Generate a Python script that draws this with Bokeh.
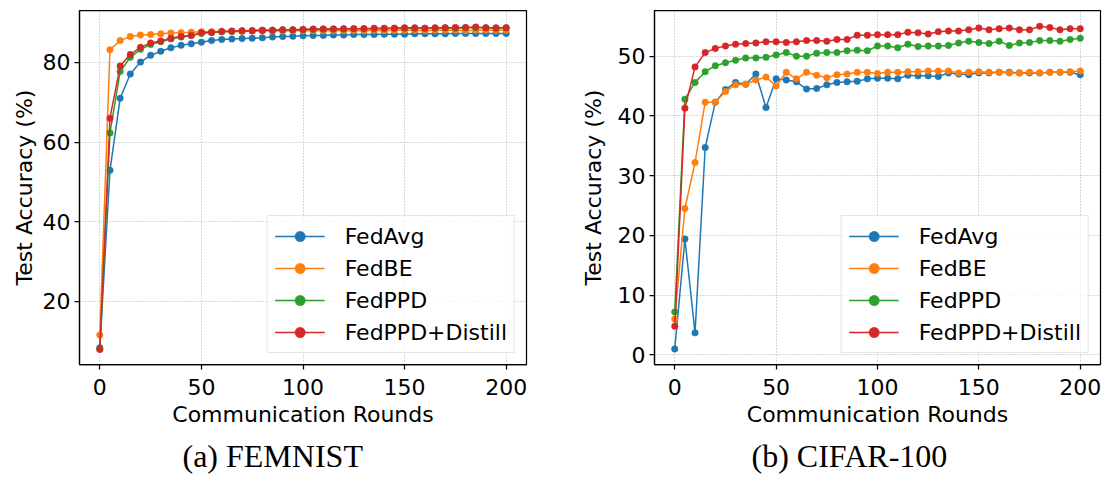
from bokeh.plotting import figure
from bokeh.models import Range1d, FixedTicker, Legend, LegendItem, Title
from bokeh.layouts import row
from bokeh.embed import file_html
from bokeh.resources import INLINE

# ---------------- data ----------------
rounds = [0, 5, 10, 15, 20, 25, 30, 35, 40, 45, 50, 55, 60, 65, 70, 75, 80, 85, 90, 95,
          100, 105, 110, 115, 120, 125, 130, 135, 140, 145, 150, 155, 160, 165, 170, 175,
          180, 185, 190, 195, 200]

series_names = ["FedAvg", "FedBE", "FedPPD", "FedPPD+Distill"]

femnist_fedavg = [8.3, 52.9, 71.0, 77.1, 80.1, 81.8, 82.8, 83.7, 84.3, 84.7, 85.1, 85.5, 85.8, 85.9,
                  86.0, 86.1, 86.2, 86.4, 86.5, 86.6, 86.7, 86.8, 86.8, 86.9, 86.9, 87.0, 87.0, 87.0,
                  87.1, 87.1, 87.1, 87.2, 87.2, 87.2, 87.2, 87.3, 87.3, 87.3, 87.3, 87.3, 87.3]
femnist_fedbe = [11.5, 83.2, 85.5, 86.5, 86.9, 87.0, 87.2, 87.4, 87.5, 87.6, 87.7, 87.7, 87.8, 87.8,
                 87.8, 87.9, 87.9, 87.9, 87.9, 88.0, 88.0, 88.0, 88.0, 88.0, 88.0, 88.0, 88.0, 88.1,
                 88.0, 88.1, 88.1, 88.1, 88.0, 88.1, 88.1, 88.1, 88.0, 88.1, 88.1, 88.1, 88.1]
femnist_fedppd = [8.0, 62.3, 77.7, 81.3, 83.3, 84.5, 85.2, 85.9, 86.4, 86.8, 87.3, 87.5, 87.7, 87.8,
                  87.9, 88.0, 88.1, 88.1, 88.2, 88.2, 88.3, 88.3, 88.4, 88.4, 88.4, 88.5, 88.5, 88.5,
                  88.5, 88.6, 88.6, 88.6, 88.6, 88.6, 88.7, 88.6, 88.7, 88.7, 88.7, 88.6, 88.7]
femnist_distill = [7.9, 66.0, 79.1, 82.0, 83.8, 84.9, 85.4, 86.1, 86.5, 86.8, 87.5, 87.6, 87.8, 87.9,
                   88.0, 88.0, 88.1, 88.1, 88.2, 88.2, 88.3, 88.4, 88.4, 88.4, 88.5, 88.5, 88.5, 88.6,
                   88.6, 88.6, 88.7, 88.7, 88.6, 88.7, 88.7, 88.8, 88.8, 88.9, 88.7, 88.7, 88.7]

cifar_fedavg = [1.0, 19.4, 3.7, 34.7, 42.3, 44.4, 45.6, 45.3, 47.0, 41.4, 46.2, 46.0, 45.7, 44.5,
                44.6, 45.2, 45.6, 45.7, 45.8, 46.2, 46.3, 46.3, 46.2, 46.8, 46.7, 46.7, 46.6, 47.2,
                47.0, 46.9, 47.2, 47.2, 47.3, 47.3, 47.2, 47.2, 47.2, 47.3, 47.3, 47.3, 46.9]
cifar_fedbe = [6.0, 24.5, 32.2, 42.3, 42.3, 44.1, 45.2, 45.3, 46.0, 46.5, 45.0, 47.3, 46.2, 47.3,
               46.8, 46.4, 46.9, 47.0, 47.3, 47.3, 47.1, 47.3, 47.3, 47.4, 47.4, 47.5, 47.5, 47.5,
               47.2, 47.3, 47.4, 47.3, 47.3, 47.2, 47.2, 47.3, 47.2, 47.3, 47.3, 47.4, 47.5]
cifar_fedppd = [7.2, 42.8, 45.6, 47.4, 48.4, 48.9, 49.3, 49.7, 49.7, 49.8, 50.2, 50.6, 50.0, 50.0,
                50.5, 50.6, 50.6, 50.9, 51.0, 50.9, 51.7, 51.7, 51.4, 52.0, 51.6, 51.7, 51.7, 51.8,
                52.2, 52.5, 52.3, 52.1, 52.5, 51.8, 52.2, 52.3, 52.6, 52.6, 52.5, 52.8, 53.0]
cifar_distill = [4.8, 41.3, 48.2, 50.6, 51.3, 51.7, 52.0, 52.1, 52.2, 52.4, 52.4, 52.3, 52.4, 52.6,
                 52.6, 52.5, 52.8, 52.8, 53.5, 53.5, 53.6, 53.6, 53.6, 54.0, 53.9, 53.7, 54.1, 54.2,
                 54.2, 54.4, 54.7, 54.4, 54.6, 54.7, 54.4, 54.4, 55.0, 54.8, 54.4, 54.6, 54.6]

x_ticks = [0, 50, 100, 150, 200]
femnist_y_ticks = [20, 40, 60, 80]
cifar_y_ticks = [0, 10, 20, 30, 40, 50]

captions = ["(a) FEMNIST", "(b) CIFAR-100"]

colors = ["#1f77b4", "#ff7f0e", "#2ca02c", "#d62728"]

FONT = "DejaVu Sans"
H = 479


def make_fig(width, border_left, border_right, y_range, y_ticks, data, caption, cap_offset, ylabel_standoff):
    p = figure(width=width, height=H, title=None,
               x_range=Range1d(-10, 210), y_range=Range1d(*y_range),
               output_backend="svg", toolbar_location=None,
               min_border_left=border_left, min_border_right=border_right,
               min_border_top=10, min_border_bottom=115)
    p.background_fill_color = "white"
    p.border_fill_color = "white"
    p.outline_line_color = "black"
    p.outline_line_width = 1.25
    p.outline_line_alpha = 1.0

    p.xaxis.ticker = FixedTicker(ticks=x_ticks)
    p.yaxis.ticker = FixedTicker(ticks=y_ticks)
    p.xaxis.axis_label = "Communication Rounds"
    p.yaxis.axis_label = "Test Accuracy (%)"
    for ax in (p.xaxis[0], p.yaxis[0]):
        ax.major_label_text_font = FONT
        ax.major_label_text_font_size = "22px"
        ax.major_label_text_color = "black"
        ax.axis_label_text_font = FONT
        ax.axis_label_text_font_size = "22px"
        ax.axis_label_text_font_style = "normal"
        ax.axis_label_text_color = "black"
        ax.axis_line_color = "black"
        ax.axis_line_width = 1.25
        ax.major_tick_line_color = "black"
        ax.major_tick_line_width = 1.25
        ax.major_tick_in = 0
        ax.major_tick_out = 5
        ax.minor_tick_line_color = None
    p.xaxis.major_label_standoff = 9
    p.yaxis.major_label_standoff = 4
    p.xaxis.axis_label_standoff = 4
    p.yaxis.axis_label_standoff = ylabel_standoff

    p.grid.grid_line_color = "#b0b0b0"
    p.grid.grid_line_dash = "1 2"
    p.grid.grid_line_width = 1

    items = []
    for name, vals, c in zip(series_names, data, colors):
        ln = p.line(rounds, vals, line_color=c, line_width=1.5)
        sc = p.scatter(rounds, vals, size=6.5, fill_color=c, line_color=c, line_width=0.5)
        items.append(LegendItem(label=name, renderers=[ln, sc]))

    legend = Legend(items=items, location="bottom_right")
    legend.label_text_font = FONT
    legend.label_text_font_size = "22px"
    legend.label_text_color = "black"
    legend.glyph_width = 50
    legend.glyph_height = 26
    legend.label_height = 26
    legend.label_standoff = 20
    legend.spacing = 6
    legend.padding = 7
    legend.margin = 11
    legend.border_line_color = "#cccccc"
    legend.border_line_width = 1.2
    legend.background_fill_color = "white"
    legend.background_fill_alpha = 0.8
    p.add_layout(legend)

    t = Title(text=caption, align="left", offset=cap_offset, standoff=12,
              text_font="Liberation Serif", text_font_size="32px",
              text_font_style="normal", text_color="black")
    p.add_layout(t, "below")
    return p


p1 = make_fig(567, 79, 41, (4.1, 93.06), femnist_y_ticks,
              [femnist_fedavg, femnist_fedbe, femnist_fedppd, femnist_distill],
              captions[0], 103, 3)
p2 = make_fig(535, 87, 2, (-1.6, 57.64), cifar_y_ticks,
              [cifar_fedavg, cifar_fedbe, cifar_fedppd, cifar_distill],
              captions[1], 97, 9)

layout = row(p1, p2)
open("out.html", "w").write(file_html(layout, INLINE))
